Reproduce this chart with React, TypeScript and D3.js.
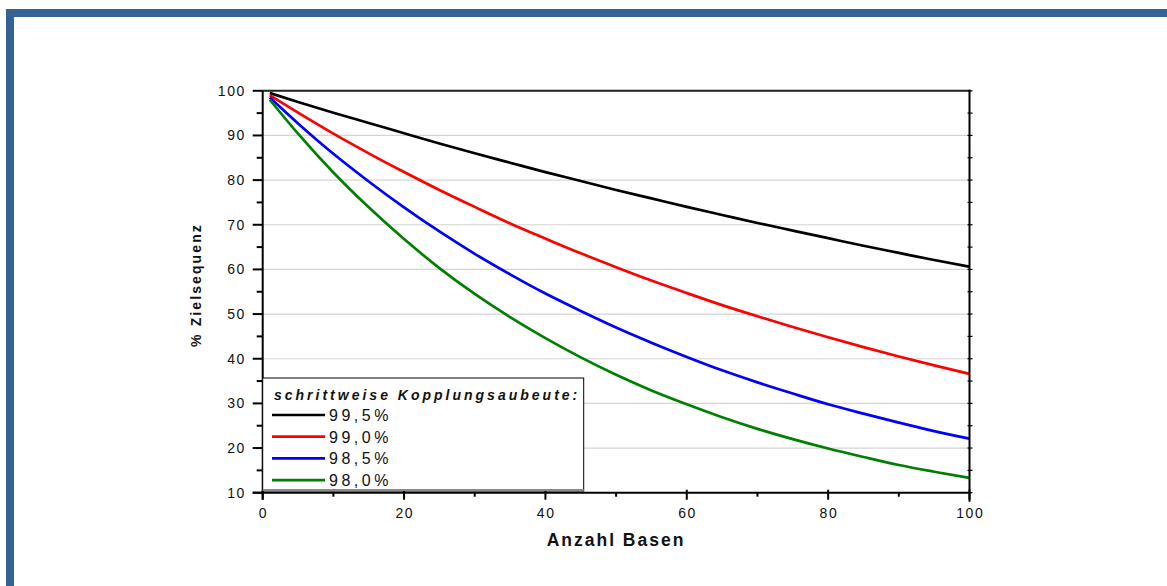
import React from "react";
import * as d3 from "d3";

const basen = [1, 5, 10, 15, 20, 25, 30, 35, 40, 45, 50, 55, 60, 65, 70, 75, 80, 85, 90, 95, 100];
const s995 = [99.5, 97.5, 95.1, 92.8, 90.5, 88.2, 86.0, 83.9, 81.8, 79.8, 77.8, 75.9, 74.0, 72.2, 70.4, 68.7, 67.0, 65.3, 63.7, 62.1, 60.6];
const s990 = [99.0, 95.1, 90.4, 86.0, 81.8, 77.8, 74.0, 70.3, 66.9, 63.6, 60.5, 57.5, 54.7, 52.0, 49.5, 47.1, 44.8, 42.6, 40.5, 38.5, 36.6];
const s985 = [98.5, 92.7, 85.9, 79.7, 73.9, 68.5, 63.5, 58.9, 54.6, 50.7, 47.0, 43.6, 40.4, 37.4, 34.7, 32.2, 29.8, 27.7, 25.7, 23.8, 22.1];
const s980 = [98.0, 90.4, 81.7, 73.9, 66.8, 60.3, 54.5, 49.3, 44.6, 40.3, 36.4, 32.9, 29.8, 26.9, 24.3, 22.0, 19.9, 18.0, 16.2, 14.7, 13.3];
const seriesNames = ["99,5%", "99,0%", "98,5%", "98,0%"];
const seriesColors = ["#000000", "#ff0000", "#0000ff", "#008000"];
const xTicks = [0, 20, 40, 60, 80, 100];
const xMinor = [10, 30, 50, 70, 90];
const yTicks = [10, 20, 30, 40, 50, 60, 70, 80, 90, 100];
const yMinor = [15, 25, 35, 45, 55, 65, 75, 85, 95];
const legendTitle = "schrittweise Kopplungsaubeute:";
const xTitle = "Anzahl Basen";
const yTitle = "% Zielsequenz";

const FONT = "'Liberation Sans', Arial, Helvetica, sans-serif";

export default function App() {
  const W = 1167, H = 586;
  const x = d3.scaleLinear().domain([0, 100]).range([262.7, 969.5]);
  const y = d3.scaleLinear().domain([10, 100]).range([492.7, 90.8]);
  const all = [s995, s990, s985, s980];
  const line = d3.line<number>().x((_, i) => x(basen[i])).y((v) => y(v)).curve(d3.curveMonotoneX);

  const lgX = x(0), lgY = 378, lgW = 321, lgH = 113;

  return (
    <svg width={W} height={H} style={{ position: "absolute", left: 0, top: 0, background: "#fff" }} fontFamily={FONT}>
      <rect x={0} y={0} width={W} height={H} fill="#fff" />
      {/* frame */}
      <rect x={6} y={9} width={W - 6} height={8} fill="#356193" />
      <rect x={6} y={9} width={8} height={H - 9} fill="#356193" />

      {/* gridlines */}
      {yTicks.slice(1).map((t) => (
        <line key={"g" + t} x1={x(0)} x2={x(100)} y1={y(t)} y2={y(t)} stroke="#d4d4d4" strokeWidth={1.2} />
      ))}

      {/* series */}
      <g clipPath="url(#clip)">
        {all.map((s, i) => (
          <path key={i} d={line(s) || ""} fill="none" stroke={seriesColors[i]} strokeWidth={2.7} strokeLinejoin="round" />
        ))}
      </g>
      <defs>
        <clipPath id="clip">
          <rect x={x(0)} y={y(100) - 2} width={x(100) - x(0)} height={y(10) - y(100) + 2} />
        </clipPath>
      </defs>

      {/* y ticks left */}
      {yTicks.map((t) => (
        <g key={"yt" + t}>
          <line x1={x(0) - 10} x2={x(0)} y1={y(t)} y2={y(t)} stroke="#000" strokeWidth={2} />
          <text x={246} y={y(t)} dy="0.36em" textAnchor="end" fontSize={14} letterSpacing={1.6} fill="#111">{t}</text>
          <line x1={x(100) - 2} x2={x(100) + 3} y1={y(t)} y2={y(t)} stroke="#000" strokeWidth={1.2} />
        </g>
      ))}
      {yMinor.map((t) => (
        <g key={"ym" + t}>
          <line x1={x(0) - 6} x2={x(0)} y1={y(t)} y2={y(t)} stroke="#000" strokeWidth={2} />
          <line x1={x(100) - 2} x2={x(100) + 3} y1={y(t)} y2={y(t)} stroke="#000" strokeWidth={1.2} />
        </g>
      ))}

      {/* x ticks */}
      {xTicks.map((t) => (
        <g key={"xt" + t}>
          <line x1={x(t)} x2={x(t)} y1={y(10) - 3} y2={y(10) + 7} stroke="#000" strokeWidth={2} />
          <text x={x(t) + 0.8} y={517.5} textAnchor="middle" fontSize={14} letterSpacing={1.6} fill="#111">{t}</text>
        </g>
      ))}
      {xMinor.map((t) => (
        <line key={"xm" + t} x1={x(t)} x2={x(t)} y1={y(10)} y2={y(10) + 4} stroke="#000" strokeWidth={2} />
      ))}

      {/* plot border */}
      <line x1={x(0)} x2={x(100) + 1} y1={y(100)} y2={y(100)} stroke="#222" strokeWidth={2} />
      <line x1={x(100)} x2={x(100)} y1={y(100) - 1} y2={y(10) + 9} stroke="#000" strokeWidth={2} />
      <line x1={x(0)} x2={x(0)} y1={y(100)} y2={y(10) + 7} stroke="#000" strokeWidth={2} />
      <line x1={x(0) - 10} x2={x(100)} y1={y(10)} y2={y(10)} stroke="#000" strokeWidth={2} />

      {/* legend */}
      <rect x={lgX} y={lgY} width={lgW} height={lgH} fill="#fff" stroke="#000" strokeWidth={1} />
      <line x1={lgX} x2={lgX + lgW} y1={lgY + lgH - 1} y2={lgY + lgH - 1} stroke="#8a8a8a" strokeWidth={2} />
      <text x={274} y={399.5} fontSize={14} fontWeight="bold" fontStyle="italic" letterSpacing={3.0} fill="#111">{legendTitle}</text>
      {seriesNames.map((n, i) => (
        <g key={n}>
          <line x1={272} x2={325} y1={415 + i * 21.7} y2={415 + i * 21.7} stroke={seriesColors[i]} strokeWidth={2.7} />
          <text x={329} y={415 + i * 21.7} dy="0.37em" fontSize={16} letterSpacing={3.5} fill="#111">{n}</text>
        </g>
      ))}

      {/* axis titles */}
      <text x={616} y={545.5} textAnchor="middle" fontSize={17.5} fontWeight="bold" letterSpacing={2.0} fill="#111">{xTitle}</text>
      <text transform="translate(201,285) rotate(-90)" textAnchor="middle" fontSize={14} fontWeight="bold" letterSpacing={2.1} fill="#111">{yTitle}</text>
    </svg>
  );
}
